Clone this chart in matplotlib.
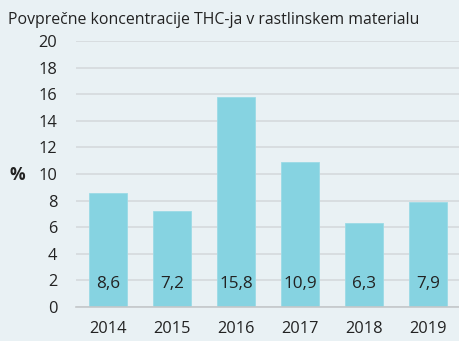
import matplotlib
matplotlib.use("Agg")
import matplotlib.pyplot as plt

years = ["2014", "2015", "2016", "2017", "2018", "2019"]
thc = [8.6, 7.2, 15.8, 10.9, 6.3, 7.9]
labels = ["8,6", "7,2", "15,8", "10,9", "6,3", "7,9"]
yticks = [0, 2, 4, 6, 8, 10, 12, 14, 16, 18, 20]

bg = "#e9f1f4"
bar_color = "#86d3e1"
text_color = "#222222"

plt.rcParams["font.family"] = ["Open Sans", "DejaVu Sans"]

fig = plt.figure(figsize=(4.6, 3.41), dpi=100, facecolor=bg)
ax = fig.add_axes([76 / 460, 1 - 307 / 341, 384 / 460, 266 / 341])
ax.set_facecolor(bg)

x = range(len(years))
ax.bar(x, thc, width=0.59, color=bar_color, edgecolor="#9bdbe6", linewidth=0.6, zorder=2)

for xi, lab in zip(x, labels):
    ax.text(xi, 1.7, lab, ha="center", va="center", fontsize=12.3, color=text_color, zorder=3)

ax.set_xlim(-0.5, 5.5)
ax.set_ylim(0, 20)
ax.set_yticks(yticks)
ax.set_yticklabels([str(t) for t in yticks])
ax.set_xticks(list(x))
ax.set_xticklabels(years)
ax.tick_params(axis="both", length=0, labelsize=11.8, colors=text_color)
ax.tick_params(axis="y", pad=13.5)
ax.tick_params(axis="x", pad=10)

ax.grid(axis="y", color="#d5dadc", linewidth=1.2, zorder=0)
ax.set_axisbelow(True)
for s in ["top", "right", "left"]:
    ax.spines[s].set_visible(False)
ax.spines["bottom"].set_color("#c4c8ca")
ax.spines["bottom"].set_linewidth(1.2)

fig.text(17 / 460, 1 - 175 / 341, "%", fontsize=12.5, fontweight="bold",
         color=text_color, ha="center", va="center")
fig.text(8 / 460, 1 - 20 / 341, "Povprečne koncentracije THC-ja v rastlinskem materialu",
         fontsize=11.4, color=text_color, ha="left", va="center")

fig.savefig("out.png", dpi=100, facecolor=bg)
